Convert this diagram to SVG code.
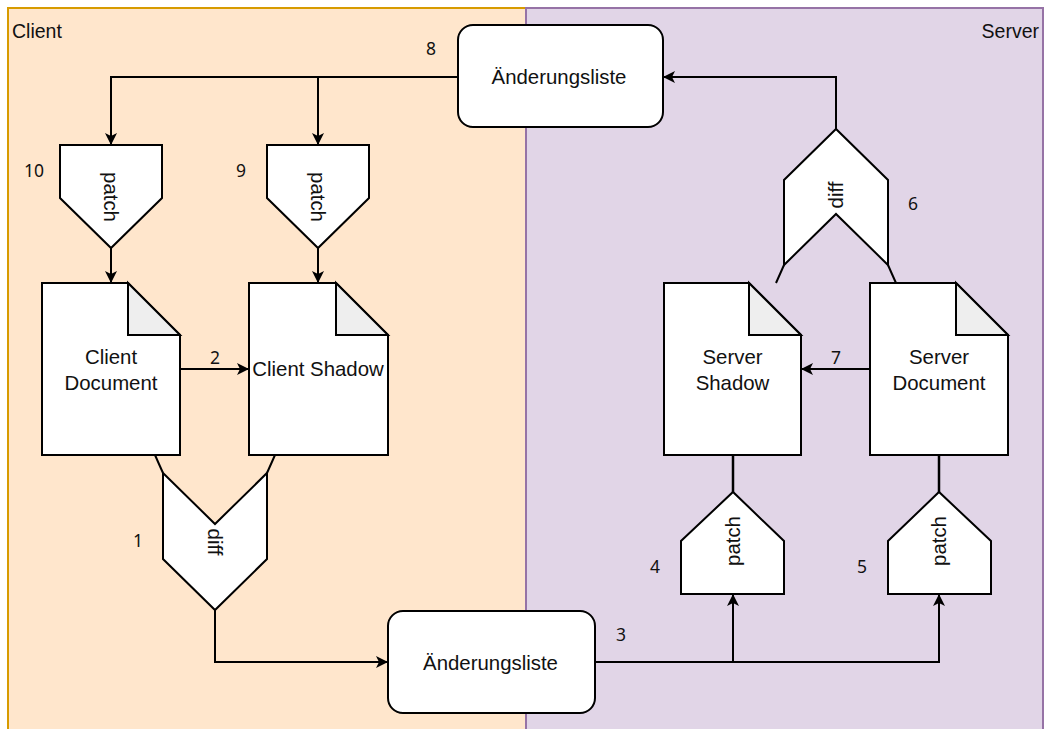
<svg xmlns="http://www.w3.org/2000/svg" width="1047" height="729" viewBox="0 0 1047 729">
  <defs>
    <marker id="arrow" markerUnits="userSpaceOnUse" markerWidth="14" markerHeight="12" refX="12" refY="6" orient="auto">
      <path d="M0,0 L12,6 L0,12 L3,6 Z" fill="#000"/>
    </marker>
  </defs>
  <style>
    .node { fill: #ffffff; stroke: #000000; stroke-width: 2; stroke-linejoin: miter; }
    .fold { fill: #eeeeee; stroke: #000000; stroke-width: 2; }
    .txt { font-family: "Liberation Sans", Arial, sans-serif; font-size: 20.4px; fill: #111111; text-anchor: middle; dominant-baseline: central; }
    .num { font-family: "Noto Sans", "Liberation Sans", sans-serif; font-size: 17.5px; fill: #111111; text-anchor: middle; dominant-baseline: central; }
    .lane-title { font-family: "Liberation Sans", Arial, sans-serif; font-size: 19.5px; fill: #111111; dominant-baseline: central; }
    .edge { fill: none; stroke: #000000; stroke-width: 2; }
    .link { fill: none; stroke: #000000; stroke-width: 2.5; }
  </style>

  <!-- swimlanes -->
  <g id="lane-client">
    <rect x="8" y="8" width="518" height="730" fill="#ffe6cc" stroke="#d79b00" stroke-width="2"/>
    <text class="lane-title" x="12" y="31">Client</text>
  </g>
  <g id="lane-server">
    <rect x="526" y="8" width="517" height="730" fill="#e1d5e7" stroke="#9673a6" stroke-width="2"/>
    <text class="lane-title" x="1039" y="31" text-anchor="end">Server</text>
  </g>

  <!-- connectors -->
  <g id="connectors">
    <path class="edge" d="M458,77 H111 V145" marker-end="url(#arrow)"/>
    <path class="edge" d="M318,77 V145" marker-end="url(#arrow)"/>
    <path class="edge" d="M111,248 V283" marker-end="url(#arrow)"/>
    <path class="edge" d="M318,248 V283" marker-end="url(#arrow)"/>
    <path class="edge" d="M180,369 H249" marker-end="url(#arrow)"/>
    <path class="edge" d="M155,455 Q158.5,463 163,473"/>
    <path class="edge" d="M275,455 Q271.5,463 267,473"/>
    <path class="edge" d="M215,610 V662 H388" marker-end="url(#arrow)"/>
    <path class="edge" d="M595,662 H733 V594" marker-end="url(#arrow)"/>
    <path class="edge" d="M733,662 H939 V594" marker-end="url(#arrow)"/>
    <path class="link" d="M733,455 V492"/>
    <path class="link" d="M939,455 V492"/>
    <path class="edge" d="M870,369 H801" marker-end="url(#arrow)"/>
    <path class="edge" d="M784,265 Q780.5,273 776,283"/>
    <path class="edge" d="M888,265 Q891.5,273 896,283"/>
    <path class="edge" d="M836,129 V77 H663" marker-end="url(#arrow)"/>
  </g>

  <!-- step numbers -->
  <g id="step-labels">
    <text class="num" x="431" y="48">8</text>
    <text class="num" x="34" y="170">10</text>
    <text class="num" x="241" y="170">9</text>
    <text class="num" x="215" y="357">2</text>
    <text class="num" x="138" y="540">1</text>
    <text class="num" x="621" y="634">3</text>
    <text class="num" x="655" y="566">4</text>
    <text class="num" x="862" y="566">5</text>
    <text class="num" x="913" y="203">6</text>
    <text class="num" x="836" y="357">7</text>
  </g>

  <!-- change lists -->
  <g id="changes-top">
    <rect class="node" x="458" y="25" width="205" height="102" rx="15" ry="15"/>
    <text class="txt" x="559" y="77">Änderungsliste</text>
  </g>
  <g id="changes-bottom">
    <rect class="node" x="388" y="611" width="207" height="102" rx="15" ry="15"/>
    <text class="txt" x="490.5" y="663">Änderungsliste</text>
  </g>

  <!-- patch steps -->
  <g id="patch-client-doc">
    <path class="node" d="M60,145 H162 V198 L111,248 L60,198 Z"/>
    <text class="txt" transform="translate(111,197) rotate(90)">patch</text>
  </g>
  <g id="patch-client-shadow">
    <path class="node" d="M267,145 H369 V198 L318,248 L267,198 Z"/>
    <text class="txt" transform="translate(318,197) rotate(90)">patch</text>
  </g>
  <g id="patch-server-shadow">
    <path class="node" d="M681,594 V541 L733,492 L784,541 V594 Z"/>
    <text class="txt" transform="translate(733,541) rotate(-90)">patch</text>
  </g>
  <g id="patch-server-doc">
    <path class="node" d="M888,594 V541 L939,492 L991,541 V594 Z"/>
    <text class="txt" transform="translate(939,541) rotate(-90)">patch</text>
  </g>

  <!-- diff steps -->
  <g id="diff-client">
    <path class="node" d="M163,473 L215,524 L267,473 V559 L215,610 L163,559 Z"/>
    <text class="txt" transform="translate(215,542) rotate(90)">diff</text>
  </g>
  <g id="diff-server">
    <path class="node" d="M784,265 V180 L836,129 L888,180 V265 L836,214 Z"/>
    <text class="txt" transform="translate(836,195) rotate(-90)">diff</text>
  </g>

  <!-- documents -->
  <g id="client-document">
    <path class="node" d="M42,283 H128 L180,335 V455 H42 Z"/>
    <path class="fold" d="M128,283 V335 H180 Z"/>
    <text class="txt" x="111" y="357">Client</text>
    <text class="txt" x="111" y="383">Document</text>
  </g>
  <g id="client-shadow">
    <path class="node" d="M249,283 H336 L388,335 V455 H249 Z"/>
    <path class="fold" d="M336,283 V335 H388 Z"/>
    <text class="txt" x="318" y="369">Client Shadow</text>
  </g>
  <g id="server-shadow">
    <path class="node" d="M664,283 H749 L801,335 V455 H664 Z"/>
    <path class="fold" d="M749,283 V335 H801 Z"/>
    <text class="txt" x="732.5" y="357">Server</text>
    <text class="txt" x="732.5" y="383">Shadow</text>
  </g>
  <g id="server-document">
    <path class="node" d="M870,283 H956 L1008,335 V455 H870 Z"/>
    <path class="fold" d="M956,283 V335 H1008 Z"/>
    <text class="txt" x="939" y="357">Server</text>
    <text class="txt" x="939" y="383">Document</text>
  </g>
</svg>
